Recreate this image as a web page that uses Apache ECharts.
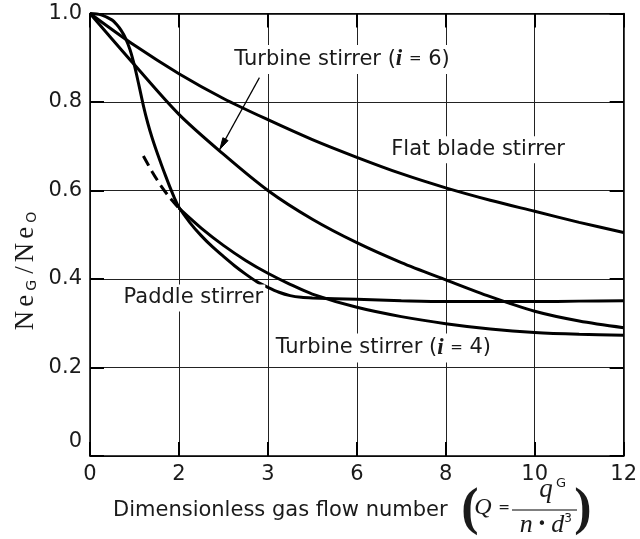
<!DOCTYPE html>
<html>
<head>
<meta charset="utf-8">
<script src="https://cdn.jsdelivr.net/npm/echarts@6/dist/echarts.min.js"></script>
<style>
html,body{margin:0;padding:0;background:#fff;}
#chart{width:640px;height:539px;}
</style>
</head>
<body>
<div id="chart"></div>
<script>
// ---- data ----
const xTickLabels = ['0', '2', '3', '6', '8', '10', '12'];
const yTickLabels = ['0', '0.2', '0.4', '0.6', '0.8', '1.0'];

const flatBlade = [[0,1],[1,0.928],[2,0.864],[3,0.808],[4,0.76],[5,0.715],[6,0.675],[7,0.638],[8,0.606],[9,0.578],[10,0.553],[11,0.528],[12,0.505]];
const turbine6 = [[0,1],[1,0.884],[2,0.772],[3,0.682],[4,0.6],[5,0.535],[6,0.482],[7,0.437],[8,0.398],[9,0.36],[10,0.327],[11,0.305],[12,0.29]];
const paddle = [[0,1],[0.25,0.997],[0.5,0.985],[0.6,0.975],[0.7,0.962],[0.8,0.944],[0.9,0.918],[1.0,0.882],[1.1,0.838],[1.2,0.792],[1.3,0.752],[1.4,0.718],[1.5,0.688],[1.6,0.66],[1.7,0.633],[1.8,0.607],[1.9,0.583],[2.0,0.562],[2.25,0.527],[2.5,0.498],[2.75,0.473],[3.0,0.451],[3.25,0.43],[3.5,0.411],[3.75,0.394],[4.0,0.381],[4.25,0.37],[4.5,0.3625],[4.75,0.3585],[5.0,0.357],[6,0.354],[7,0.351],[8,0.349],[9,0.349],[10,0.349],[11,0.35],[12,0.351]];
const turbine4Dashed = [[1.2,0.678],[1.4,0.642],[1.6,0.61],[1.8,0.583],[2.0,0.56]];
const turbine4 = [[2.0,0.56],[2.5,0.515],[3.0,0.476],[3.5,0.442],[4.0,0.413],[4.5,0.388],[5,0.366],[6,0.336],[7,0.315],[8,0.299],[9,0.287],[10,0.279],[11,0.275],[12,0.273]];

// annotation anchors in data units
const labelTurbine6 = [3.2, 0.896];
const labelFlat = [6.73, 0.692];
const labelPaddle = [0.71, 0.357];
const labelTurbine4 = [4.13, 0.244];
const arrowFrom = [3.81, 0.855];
const arrowTo = [2.92, 0.693];

const SANS = 'DejaVu Sans';
const SERIF = 'Liberation Serif';
const INK = '#1a1a1a';

const chart = echarts.init(document.getElementById('chart'), null, {renderer: 'canvas'});

function lineSeries(name, data, dashed) {
  return {
    name: name, type: 'line', data: data, xAxisIndex: 0, yAxisIndex: 0,
    smooth: 0.3, showSymbol: false, silent: true,
    lineStyle: {color: '#000', width: 3, type: dashed ? [11, 6] : 'solid'},
    z: 5
  };
}

const tickStyle = {show: true, inside: true, length: 14, lineStyle: {color: '#000', width: 2}};
const axisLineStyle = {show: true, onZero: false, lineStyle: {color: '#000', width: 1.5}};

chart.setOption({
  animation: false,
  backgroundColor: '#fff',
  grid: {left: 90, right: 15, top: 13.5, bottom: 83, containLabel: false},
  xAxis: [{
    type: 'value', min: 0, max: 12, interval: 2, position: 'bottom',
    axisLine: axisLineStyle,
    axisTick: tickStyle,
    splitLine: {show: true, lineStyle: {color: '#222', width: 1}},
    axisLabel: {
      show: true, margin: 8, color: INK, fontFamily: SANS, fontSize: 21,
      formatter: function (v) { return xTickLabels[Math.round(v / 2)]; }
    }
  }, {
    type: 'value', min: 0, max: 12, interval: 2, position: 'top',
    axisLine: axisLineStyle,
    axisTick: tickStyle, splitLine: {show: false}, axisLabel: {show: false}
  }],
  yAxis: [{
    type: 'value', min: 0, max: 1, interval: 0.2, position: 'left',
    axisLine: axisLineStyle,
    axisTick: tickStyle,
    splitLine: {show: true, lineStyle: {color: '#222', width: 1}},
    axisLabel: {
      show: true, margin: 8, color: INK, fontFamily: SANS, fontSize: 21,
      formatter: function (v) {
        const t = yTickLabels[Math.round(v * 5)];
        return v === 0 ? '{z|' + t + '}' : t;
      },
      rich: {z: {fontFamily: SANS, fontSize: 21, color: INK, padding: [0, 0, 28, 0]}}
    }
  }, {
    type: 'value', min: 0, max: 1, interval: 0.2, position: 'right',
    axisLine: axisLineStyle,
    axisTick: tickStyle, splitLine: {show: false}, axisLabel: {show: false}
  }],
  series: [
    lineSeries('Flat blade stirrer', flatBlade),
    lineSeries('Turbine stirrer (i = 6)', turbine6),
    lineSeries('Paddle stirrer', paddle),
    lineSeries('Turbine stirrer (i = 4) extrapolated', turbine4Dashed, true),
    lineSeries('Turbine stirrer (i = 4)', turbine4)
  ]
});

function px(p) { return chart.convertToPixel({gridIndex: 0}, p); }

const labelRich = {
  a: {fontFamily: SANS, fontSize: 21, color: INK},
  e: {fontFamily: SANS, fontSize: 15, color: INK},
  i: {fontFamily: SERIF, fontSize: 23, fontWeight: 'bold', fontStyle: 'italic', color: INK}
};

function label(pos, text) {
  const p = px(pos);
  return {
    type: 'text', x: p[0], y: p[1], z: 20,
    style: {
      text: text, rich: labelRich, fontFamily: SANS, fontSize: 21, fill: INK,
      align: 'left', verticalAlign: 'middle',
      backgroundColor: '#fff', padding: [3, 2, 3, 2]
    }
  };
}

const a0 = px(arrowFrom), a1 = px(arrowTo);
const ang = Math.atan2(a1[1] - a0[1], a1[0] - a0[0]);
const hl = 12, hw = 0.25;
const head = [
  [a1[0] - hl * Math.cos(ang - hw), a1[1] - hl * Math.sin(ang - hw)],
  [a1[0], a1[1]],
  [a1[0] - hl * Math.cos(ang + hw), a1[1] - hl * Math.sin(ang + hw)]
];

const nameN = {fontFamily: SERIF, fontSize: 27, fill: INK, verticalAlign: 'bottom', lineHeight: 30, padding: [0, 4, 0, 0]};
const nameS = {fontFamily: SANS, fontSize: 14, fill: INK, verticalAlign: 'bottom', lineHeight: 10, padding: [0, 6, 0, 0]};

const graphics = [
  label(labelTurbine6, '{a|Turbine stirrer (}{i|i}{a| }{e|=}{a| 6)}'),
  label(labelFlat, '{a|Flat blade stirrer}'),
  label(labelPaddle, '{a|Paddle stirrer}'),
  label(labelTurbine4, '{a|Turbine stirrer (}{i|i}{a| }{e|=}{a| 4)}'),
  {type: 'line', z: 21, shape: {x1: a0[0], y1: a0[1], x2: a1[0], y2: a1[1]}, style: {stroke: '#000', lineWidth: 1.2}},
  {type: 'polygon', z: 21, shape: {points: head}, style: {fill: '#000', stroke: '#000', lineWidth: 1}},
  // y axis name
  {
    type: 'text', x: 24, y: 268, rotation: Math.PI / 2, z: 20,
    style: {
      text: '{n|N}{n|e}{s|G}{n|/}{n|N}{n|e}{s|O}', align: 'center', verticalAlign: 'middle',
      rich: {n: nameN, s: nameS}
    }
  },
  // x axis name and formula
  {type: 'text', x: 113, y: 511, z: 20, style: {text: 'Dimensionless gas flow number', fontFamily: SANS, fontSize: 21, fill: INK, align: 'left', verticalAlign: 'middle'}},
  {type: 'text', x: 470, y: 511, z: 20, style: {text: '(', fontFamily: SERIF, fontSize: 52, fontWeight: 'bold', fill: INK, align: 'center', verticalAlign: 'middle'}},
  {type: 'text', x: 483, y: 508, z: 20, style: {text: 'Q', fontFamily: SERIF, fontSize: 24, fontStyle: 'italic', fill: INK, align: 'center', verticalAlign: 'middle'}},
  {type: 'text', x: 504, y: 508, z: 20, style: {text: '=', fontFamily: SANS, fontSize: 14, fill: INK, align: 'center', verticalAlign: 'middle'}},
  {type: 'line', z: 20, shape: {x1: 512, y1: 510, x2: 577, y2: 510}, style: {stroke: '#000', lineWidth: 1}},
  {type: 'text', x: 546, y: 490, z: 20, style: {text: 'q', fontFamily: SERIF, fontSize: 27, fontStyle: 'italic', fill: INK, align: 'center', verticalAlign: 'middle'}},
  {type: 'text', x: 561, y: 484, z: 20, style: {text: 'G', fontFamily: SANS, fontSize: 13, fill: INK, align: 'center', verticalAlign: 'middle'}},
  {type: 'text', x: 542, y: 525, z: 20, style: {
    text: '{v|n}{b| • }{v|d}', align: 'center', verticalAlign: 'middle',
    rich: {
      v: {fontFamily: SERIF, fontSize: 26, fontStyle: 'italic', fill: INK},
      b: {fontFamily: SANS, fontSize: 15, fill: INK}
    }
  }},
  {type: 'text', x: 568, y: 519, z: 20, style: {text: '3', fontFamily: SANS, fontSize: 12, fill: INK, align: 'center', verticalAlign: 'middle'}},
  {type: 'text', x: 583, y: 511, z: 20, style: {text: ')', fontFamily: SERIF, fontSize: 52, fontWeight: 'bold', fill: INK, align: 'center', verticalAlign: 'middle'}}
];

chart.setOption({graphic: graphics});
</script>
</body>
</html>
